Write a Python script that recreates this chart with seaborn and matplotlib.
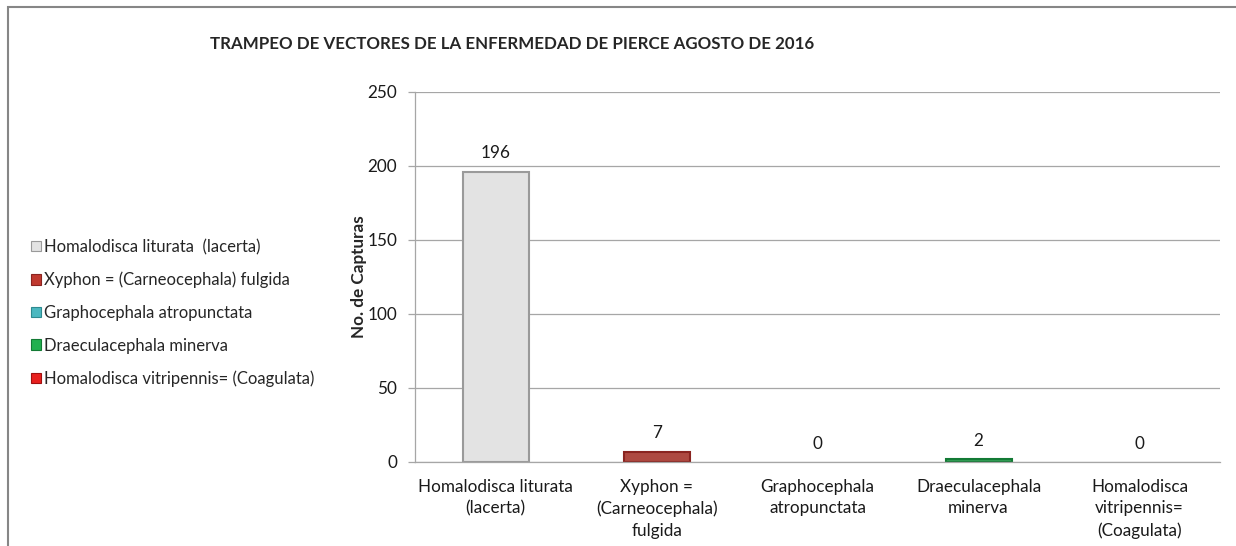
import numpy as np
import pandas as pd
import seaborn as sns
import matplotlib.pyplot as plt
from matplotlib.patches import Rectangle, Patch

# datos del trampeo (agosto 2016)
especies = ['Homalodisca liturata  (lacerta)', 'Xyphon = (Carneocephala) fulgida',
            'Graphocephala atropunctata', 'Draeculacephala minerva',
            'Homalodisca vitripennis= (Coagulata)']
etiquetas_x = ['Homalodisca liturata\n(lacerta)', 'Xyphon =\n(Carneocephala)\nfulgida',
               'Graphocephala\natropunctata', 'Draeculacephala\nminerva',
               'Homalodisca\nvitripennis=\n(Coagulata)']
capturas = [196, 7, 0, 2, 0]
colores = ['#e3e3e3', '#c0392f', '#4bb8c0', '#22b04f', '#e8201e']
bordes = ['#9a9a9a', '#8a2420', '#2e8a90', '#137a35', '#a01010']

sns.set_style('white')
plt.rcParams['font.family'] = ['Lato', 'DejaVu Sans']

df = pd.DataFrame({'especie': especies, 'capturas': capturas})

fig = plt.figure(figsize=(12.36, 5.46), dpi=100)
ax = fig.add_axes([0.336, 0.154, 0.651, 0.678])

sns.barplot(data=df, x='especie', y='capturas', hue='especie', palette=colores,
            dodge=False, width=0.41, legend=False, ax=ax)
for bar, ec, v in zip(ax.patches, bordes, capturas):
    bar.set_edgecolor(ec)
    bar.set_linewidth(1.5 if v > 0 else 0)

ax.set_ylim(0, 250)
ax.set_xlim(-0.5, 4.5)
ax.set_yticks(np.arange(0, 251, 50))
ax.yaxis.grid(True, color='#a6a6a6', linewidth=0.9)
ax.set_axisbelow(True)
for s in ['top', 'right']:
    ax.spines[s].set_visible(False)
for s in ['left', 'bottom']:
    ax.spines[s].set_color('#a6a6a6')
    ax.spines[s].set_linewidth(0.9)

ax.set_xticks(range(5))
ax.set_xticklabels(etiquetas_x, fontsize=12.3, color='#1a1a1a', linespacing=1.45)
ax.set_xticks(np.arange(-0.5, 5, 1), minor=True)
ax.tick_params(axis='x', which='major', length=0, pad=12)
ax.tick_params(axis='x', which='minor', length=5, color='#a6a6a6', width=0.9)
ax.tick_params(axis='y', length=5, color='#a6a6a6', width=0.9, labelsize=12.3,
               labelcolor='#1a1a1a', left=True, pad=8)

ax.set_xlabel('')
ax.set_ylabel('No. de Capturas', fontsize=12.3, fontweight='bold', labelpad=0)

for i, v in enumerate(capturas):
    ax.text(i, v + 7, str(v), ha='center', va='bottom', fontsize=12.3, color='#1a1a1a')

handles = [Patch(facecolor=c, edgecolor=e, linewidth=0.8) for c, e in zip(colores, bordes)]
fig.legend(handles, especies, loc='upper left', bbox_to_anchor=(0.013, 0.59),
           frameon=False, fontsize=12, handlelength=0.6, handleheight=0.6,
           handletextpad=0.2, labelspacing=1.0)

fig.text(0.17, 0.92, 'TRAMPEO DE VECTORES DE LA ENFERMEDAD DE PIERCE AGOSTO DE 2016',
         fontsize=12.2, fontweight='bold', ha='left', va='center')

# marco del grafico
fig.patches.append(Rectangle((0.0065, -0.1), 1.2, 1.087, transform=fig.transFigure,
                             fill=False, edgecolor='#868686', linewidth=1.5))

fig.savefig('out.png', dpi=100)
